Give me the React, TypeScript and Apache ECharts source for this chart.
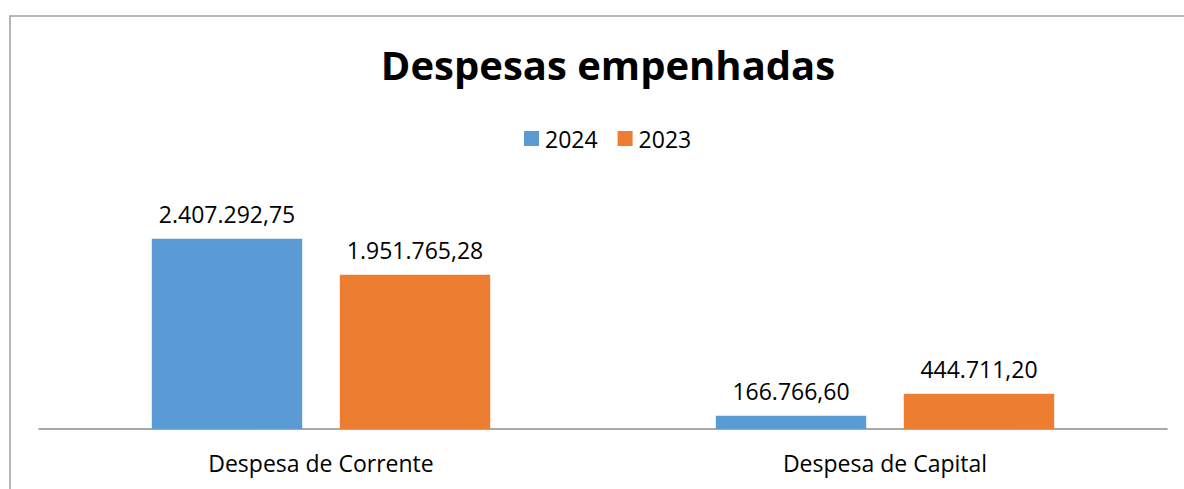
import React, { useEffect, useRef } from "react";
import * as echarts from "echarts";

const categories = ["Despesa de Corrente", "Despesa de Capital"];
const values2024 = [2407292.75, 166766.6];
const values2023 = [1951765.28, 444711.2];
const seriesNames = ["2024", "2023"];
const titleText = "Despesas empenhadas";

const fmt = (v: number) => {
  const [i, d] = v.toFixed(2).split(".");
  return i.replace(/\B(?=(\d{3})+(?!\d))/g, ".") + "," + d;
};

export default function App() {
  const ref = useRef<HTMLDivElement>(null);
  useEffect(() => {
    if (!ref.current) return;
    const chart = echarts.init(ref.current, null, { renderer: "svg" });
    const font = "'Open Sans', sans-serif";
    const label = {
      show: true,
      position: "top",
      distance: 13,
      color: "#000",
      fontSize: 23,
      fontFamily: font,
      formatter: (p: any) => fmt(p.value),
    };
    chart.setOption({
      animation: false,
      title: {
        text: titleText,
        left: 603,
        textAlign: "center",
        top: 39,
        textStyle: { fontFamily: font, fontWeight: "bold", fontSize: 40, color: "#000" },
      },
      legend: {
        data: seriesNames,
        left: 519,
        top: 122,
        itemWidth: 15,
        itemHeight: 15,
        itemGap: 20,
        icon: "rect",
        textStyle: { fontFamily: font, fontSize: 23, color: "#000", padding: [0, 0, 0, 1] },
      },
      grid: { left: 39, right: 17, top: 192, bottom: 60 },
      xAxis: {
        type: "category",
        data: categories,
        axisLine: { lineStyle: { color: "#8c8c8c", width: 1.5 } },
        axisTick: { show: false },
        axisLabel: { fontFamily: font, fontSize: 23, color: "#000", margin: 22 },
      },
      yAxis: {
        type: "value",
        min: 0,
        max: 3000000,
        show: false,
        splitLine: { show: false },
      },
      graphic: [
        {
          type: "rect",
          shape: { x: 10, y: 16, width: 1200, height: 500 },
          style: { fill: "none", stroke: "#a0a0a0", lineWidth: 1.5 },
          silent: true,
        },
      ],
      series: [
        {
          name: seriesNames[0],
          type: "bar",
          data: values2024,
          itemStyle: { color: "#5B9BD5" },
          barGap: "25%",
          barCategoryGap: "40%",
          label,
        },
        {
          name: seriesNames[1],
          type: "bar",
          data: values2023,
          itemStyle: { color: "#ED7D31" },
          barGap: "25%",
          barCategoryGap: "40%",
          label,
        },
      ],
    });
    return () => chart.dispose();
  }, []);
  return (
    <div
      ref={ref}
      style={{ position: "absolute", left: 0, top: 0, width: 1184, height: 489 }}
    />
  );
}
